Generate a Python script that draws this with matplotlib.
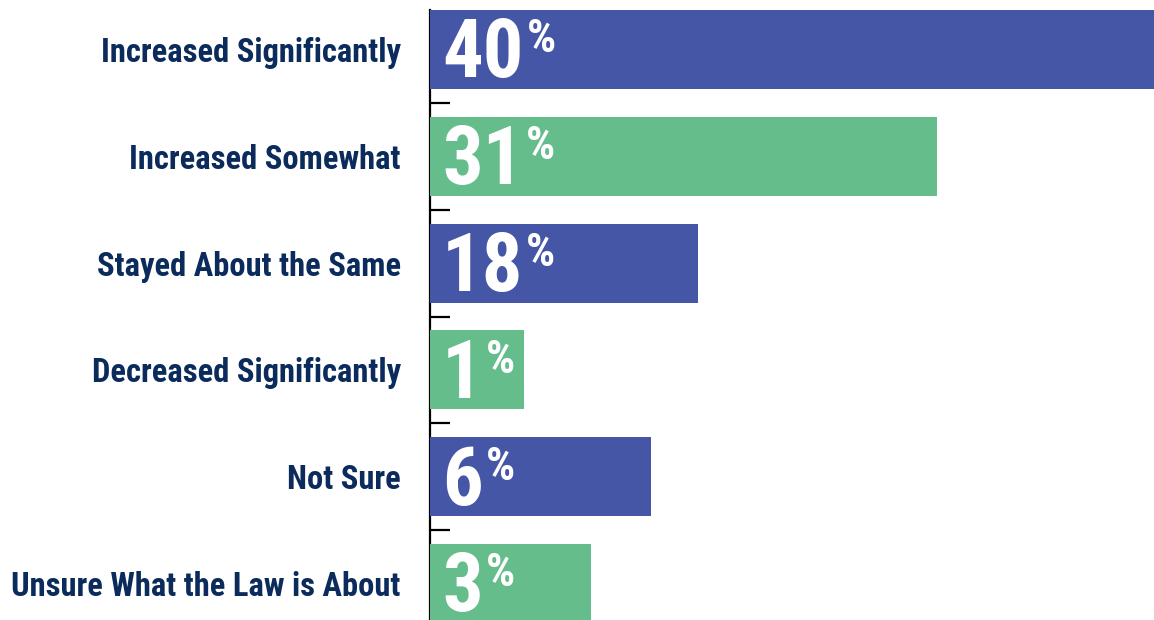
import matplotlib.pyplot as plt
from matplotlib.ticker import FixedLocator

# survey answers, top to bottom
categories = [
    "Increased Significantly",
    "Increased Somewhat",
    "Stayed About the Same",
    "Decreased Significantly",
    "Not Sure",
    "Unsure What the Law is About",
]
# percentages printed on the bars
values = [40, 31, 18, 1, 6, 3]
# bar lengths as drawn in the original graphic (not to scale with the labels)
bar_lengths = [40, 28.0, 14.8, 5.2, 12.2, 8.9]

BLUE = "#4656a6"
GREEN = "#66bd8c"
NAVY = "#0b2b5c"
colors = [BLUE, GREEN, BLUE, GREEN, BLUE, GREEN]

plt.rcParams["font.family"] = ["Roboto Condensed", "Liberation Sans Narrow", "DejaVu Sans"]

fig = plt.figure(figsize=(11.54, 6.2), dpi=100)
ax = fig.add_axes([430 / 1154, 0, 1 - 430 / 1154, 610 / 620])

ypos = list(range(len(categories)))
ax.barh(ypos, bar_lengths, height=0.74, color=colors, zorder=3)

# bar centres at 49.5 px and 583.5 px from the top of the picture
step = 534 / 5
ytop = -(49.5 - 10) / step
ax.set_ylim(ytop + 610 / step, ytop)
ax.set_xlim(0, 40)

ax.set_yticks(ypos)
ax.set_yticklabels(categories, fontsize=23.5, fontweight="bold", color=NAVY)
ax.tick_params(axis="y", which="major", length=0, pad=21)
ax.yaxis.set_minor_locator(FixedLocator([i + 0.5 for i in range(len(categories) - 1)]))
ax.tick_params(axis="y", which="minor", direction="in", length=14.5, width=1.6, color="black")
ax.set_xticks([])

for s in ["top", "right", "bottom"]:
    ax.spines[s].set_visible(False)
ax.spines["left"].set_linewidth(1.6)
ax.spines["left"].set_zorder(2)

for y, v in zip(ypos, values):
    num = ax.annotate(str(v), xy=(0, y), xytext=(12, -6), textcoords="offset pixels",
                      ha="left", va="center", fontsize=58, fontweight="bold",
                      color="white", zorder=4)
    ax.annotate("%", xy=(1, 1), xycoords=num, xytext=(3, -1), textcoords="offset pixels",
                ha="left", va="top", fontsize=33, fontweight="bold",
                color="white", zorder=4)

fig.savefig("out.png", dpi=100)
